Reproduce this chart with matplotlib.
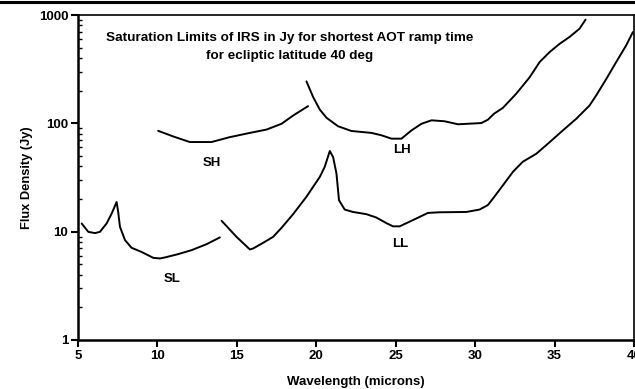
import numpy as np
import matplotlib
matplotlib.use('Agg')
import matplotlib.pyplot as plt
from matplotlib.ticker import LogLocator, NullFormatter, FixedLocator
from matplotlib.lines import Line2D

# Saturation limit curves (wavelength in microns, flux in Jy)
sl_wave = [5.23, 5.65, 6.07, 6.38, 6.8, 7.12, 7.43, 7.53, 7.64, 7.96, 8.37, 9.0,
           9.74, 10.16, 10.47, 11.3, 12.15, 13.1, 13.93]
sl_flux = [11.9, 9.96, 9.7, 9.96, 11.9, 14.7, 18.8, 15.2, 11.1, 8.35, 7.1, 6.5,
           5.73, 5.66, 5.78, 6.2, 6.75, 7.67, 8.85]

sh_wave = [10.05, 11.0, 12.04, 13.4, 14.56, 15.82, 16.87, 17.81, 18.54, 19.48]
sh_flux = [85.3, 75.6, 67.2, 67.2, 74.6, 81.6, 87.6, 99, 118, 144]

ll_wave = [14.04, 14.98, 15.82, 16.03, 16.66, 17.28, 17.8, 18.54, 19.38, 20.22,
           20.53, 20.85, 21.06, 21.27, 21.43, 21.79, 22.31, 23.16, 23.78, 24.41,
           24.83, 25.25, 26.09, 27.03, 27.77, 29.45, 30.28, 30.8, 31.12, 31.75,
           32.38, 33.0, 33.85, 34.69, 35.52, 36.36, 37.2, 37.62, 38.25, 38.88,
           39.5, 39.93]
ll_flux = [12.6, 8.95, 6.85, 7.0, 7.9, 8.95, 10.8, 14.5, 21.0, 32,
           39.6, 55.5, 48.8, 34.4, 19.5, 16.0, 15.2, 14.5, 13.5, 12.0,
           11.2, 11.2, 12.8, 14.9, 15.1, 15.2, 16.0, 17.6, 20.2, 26.8,
           35.7, 44.2, 52.4, 67, 86, 110, 146, 181, 256, 368,
           522, 695]

lh_wave = [19.38, 19.8, 20.22, 20.64, 21.37, 22.21, 23.47, 24.1, 24.73, 25.36,
           25.99, 26.62, 27.25, 28.08, 28.92, 30.39, 30.8, 31.2, 31.75, 32.59,
           33.43, 34.06, 34.69, 35.31, 35.94, 36.57, 36.95]
lh_flux = [244, 175, 134, 112.6, 94, 85, 81.6, 77.6, 72.2, 72.2,
           86, 99, 106.6, 104.5, 98, 100.6, 108, 123, 139, 188,
           266, 368, 455, 541, 627, 747, 906]

curve_labels = ['SH', 'LH', 'SL', 'LL']
label_x = [13.45, 25.4, 10.9, 25.3]
label_y = [42.8, 56.4, 3.65, 7.67]

plt.rcParams['font.family'] = ['Liberation Sans', 'DejaVu Sans']
plt.rcParams['font.weight'] = 'bold'

fig = plt.figure(figsize=(6.35, 3.89), dpi=100)
ax = fig.add_axes([78 / 635, 1 - 340 / 389, 556 / 635, 325 / 389])

for w, f in [(sl_wave, sl_flux), (sh_wave, sh_flux), (ll_wave, ll_flux), (lh_wave, lh_flux)]:
    ax.plot(w, f, color='black', lw=1.4, solid_capstyle='round')

for name, lx, ly in zip(curve_labels, label_x, label_y):
    ax.text(lx, ly, name, fontsize=9.5, fontweight='bold', ha='center', va='center')

ax.set_yscale('log')
ax.set_xlim(5, 40)
ax.set_ylim(1, 1000)
ax.xaxis.set_major_locator(FixedLocator([5, 10, 15, 20, 25, 30, 35, 40]))
ax.yaxis.set_major_locator(FixedLocator([1, 10, 100, 1000]))
ax.set_yticklabels(['1', '10', '100', '1000'])
ax.yaxis.set_minor_locator(LogLocator(base=10, subs=np.arange(2, 10)))
ax.yaxis.set_minor_formatter(NullFormatter())
ax.tick_params(axis='both', which='major', direction='out', length=5, width=1.5,
               labelsize=9.5, pad=2)
ax.tick_params(axis='y', which='minor', direction='in', length=3, width=1)

for s in ['left', 'bottom']:
    ax.spines[s].set_linewidth(1.8)
for s in ['top', 'right']:
    ax.spines[s].set_linewidth(1.2)

ax.set_xlabel('Wavelength (microns)', fontsize=9.5, fontweight='bold', labelpad=10)
ax.set_ylabel('Flux Density (Jy)', fontsize=9.3, fontweight='bold', labelpad=4)

fig.text(290 / 635, 1 - 38 / 389, 'Saturation Limits of IRS in Jy for shortest AOT ramp time',
         fontsize=9.7, fontweight='bold', ha='center', va='center')
fig.text(290 / 635, 1 - 56 / 389, 'for ecliptic latitude 40 deg',
         fontsize=9.7, fontweight='bold', ha='center', va='center')

# top border line of the original screenshot
fig.add_artist(Line2D([0, 1], [1 - 1.5 / 389, 1 - 1.5 / 389], color='black', lw=2.2,
                      transform=fig.transFigure))

fig.savefig('out.png', dpi=100)
